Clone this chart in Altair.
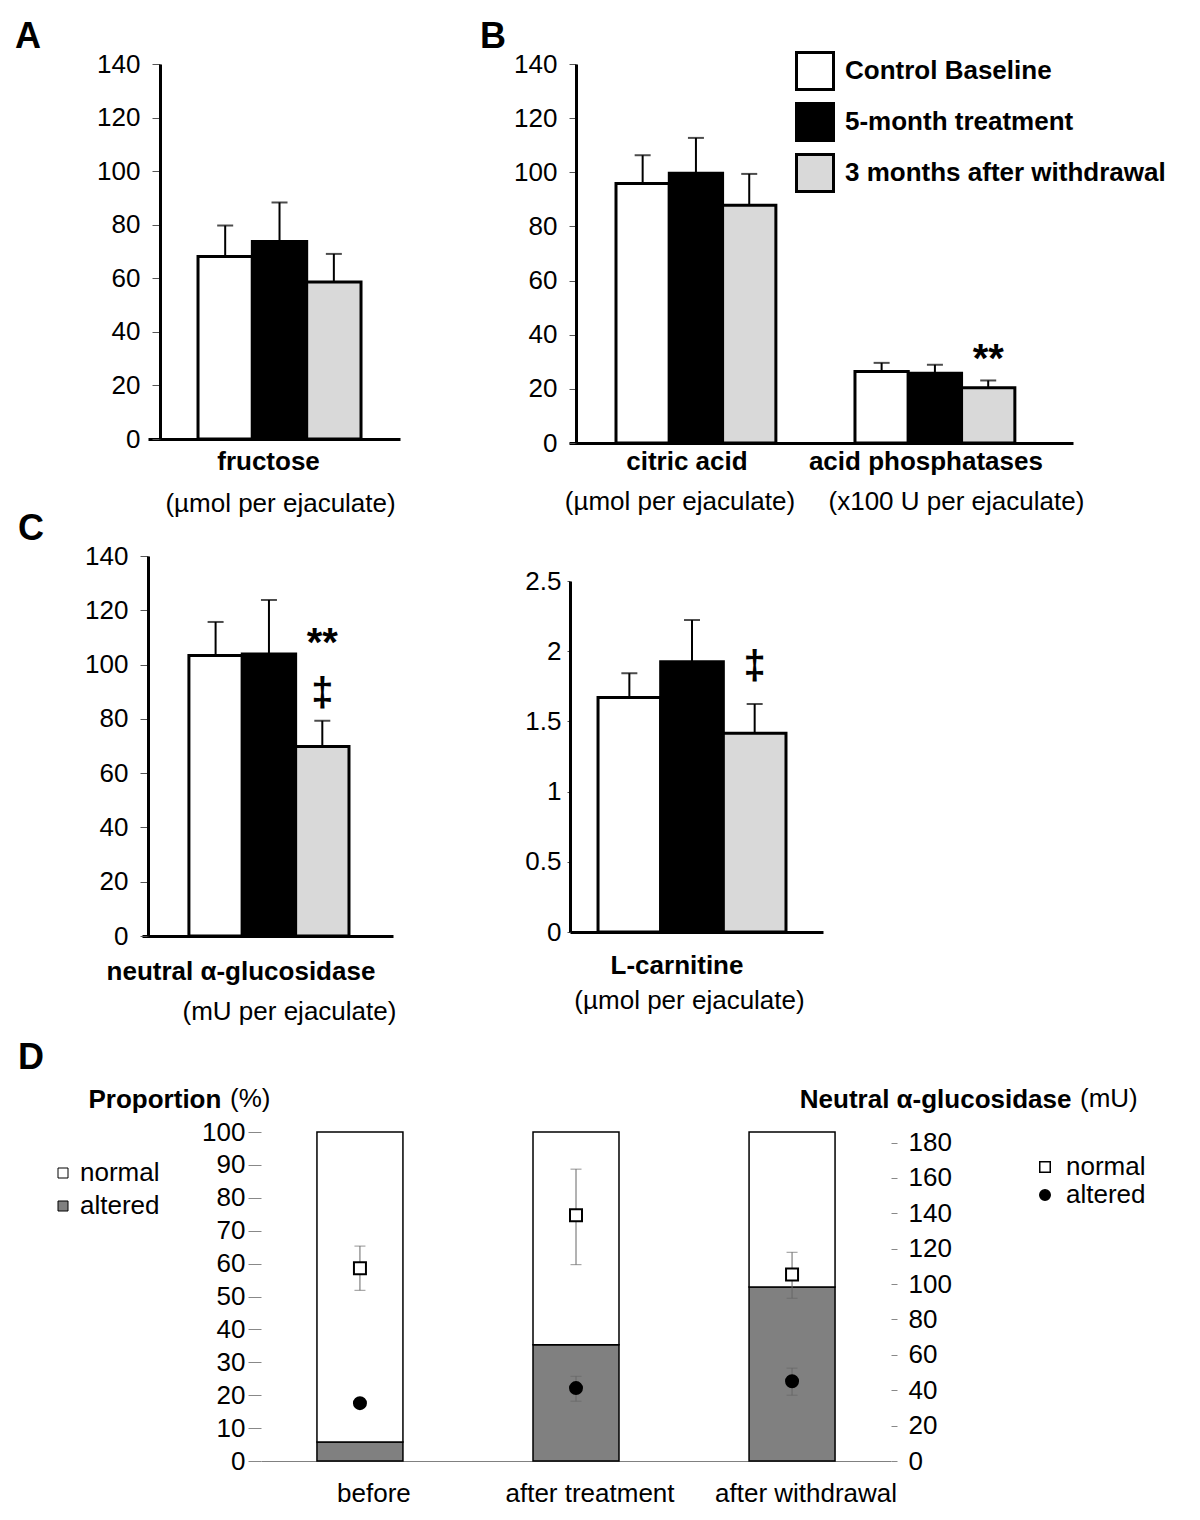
import altair as alt
import pandas as pd

FONT = "Liberation Sans"

# ---------------- data ----------------
groups = ["Control Baseline", "5-month treatment", "3 months after withdrawal"]
group_colors = ["#ffffff", "#000000", "#d9d9d9"]

fructose_mean = [68.1, 73.7, 58.6]
fructose_err = [11.6, 14.6, 10.5]
citric_mean = [95.9, 99.6, 87.8]
citric_err = [10.4, 13.1, 11.6]
acidp_mean = [26.4, 25.8, 20.4]
acidp_err = [3.2, 3.1, 2.7]
glucosidase_mean = [103.3, 103.9, 69.8]
glucosidase_err = [12.4, 19.9, 9.5]
carnitine_mean = [1.67, 1.925, 1.415]
carnitine_err = [0.173, 0.297, 0.209]

d_periods = ["before", "after treatment", "after withdrawal"]
altered_pct = [5.8, 35.3, 52.9]
normal_mU = [109.0, 139.0, 105.5]
normal_lo = [96.5, 111.0, 92.0]
normal_hi = [121.5, 165.0, 118.0]
altered_mU = [32.7, 41.2, 45.1]
altered_lo = [32.7, 33.8, 37.2]
altered_hi = [32.7, 47.9, 52.5]

tick_0_140 = [0, 20, 40, 60, 80, 100, 120, 140]
tick_0_25 = [0, 0.5, 1, 1.5, 2, 2.5]


def bar_panel(cats, means, errs, width, height, x_range, pad_outer, pad_inner,
              band_align, y_domain, y_values, y_offset, y_tick, y_labpad,
              x_labpad, x_laboffset, units, annots, letter, legend,
              y_range=None, y_format="~f"):
    rows = []
    for c, mlist, elist in zip(cats, means, errs):
        for g, m, e in zip(groups, mlist, elist):
            rows.append({"category": c, "group": g, "mean": m, "upper": m + e})
    df = pd.DataFrame(rows)

    xs = alt.Scale(domain=cats, range=x_range, paddingOuter=pad_outer,
                   paddingInner=pad_inner, align=band_align)
    x_axis = alt.Axis(title=None, labelFontSize=26, labelFontWeight="bold",
                      labelAngle=0, ticks=False, tickSize=0,
                      labelPadding=x_labpad, labelOffset=x_laboffset,
                      domainColor="black", domainWidth=3, labelColor="black",
                      labelLimit=400, labelOverlap=False)
    X = alt.X("category:N", scale=xs, axis=x_axis, sort=cats)
    XO = alt.XOffset("group:N", sort=groups,
                     scale=alt.Scale(domain=groups, paddingInner=0, paddingOuter=0))
    ys_kw = dict(domain=y_domain, nice=False, zero=True)
    if y_range is not None:
        ys_kw["range"] = y_range
    ys = alt.Scale(**ys_kw)
    y_axis = alt.Axis(title=None, values=y_values, grid=False, format=y_format,
                      domainColor="black", domainWidth=3, tickColor="#555",
                      tickWidth=1, tickSize=y_tick, labelFontSize=26,
                      labelPadding=y_labpad, offset=y_offset, labelColor="black")

    base = alt.Chart(df)
    fill = alt.Fill("group:N", scale=alt.Scale(domain=groups, range=group_colors),
                    legend=legend)
    bars = base.mark_bar(stroke="black", strokeWidth=3).encode(
        x=X, xOffset=XO, y=alt.Y("mean:Q", scale=ys, axis=y_axis), fill=fill)
    err = base.mark_rule(color="black", strokeWidth=2).encode(
        x=X, xOffset=XO, y=alt.Y("mean:Q", scale=ys, axis=y_axis), y2="upper:Q")
    cap = base.mark_tick(color="black", thickness=2, size=16).encode(
        x=X, xOffset=XO, y=alt.Y("upper:Q", scale=ys, axis=y_axis))
    layers = [bars, err, cap]

    for cat, txt, dx, uy in units:
        u = alt.Chart(pd.DataFrame([{"category": cat, "t": txt}])).mark_text(
            fontSize=26, baseline="alphabetic", align="center", dx=dx,
            color="black").encode(x=X, y=alt.value(uy), text="t:N")
        layers.append(u)

    if annots:
        adf = pd.DataFrame([{"category": c, "group": g, "ypos": v, "t": t}
                            for c, g, v, t in annots])
        a = alt.Chart(adf).mark_text(fontSize=40, fontWeight="bold",
                                     baseline="alphabetic", color="black").encode(
            x=X, xOffset=XO, y=alt.Y("ypos:Q", scale=ys, axis=y_axis), text="t:N")
        layers.append(a)

    if letter:
        lt, lx, ly = letter
        l = alt.Chart(pd.DataFrame({"t": [lt]})).mark_text(
            fontSize=36, fontWeight="bold", align="left", baseline="alphabetic",
            color="black").encode(x=alt.value(lx), y=alt.value(ly), text="t:N")
        layers.append(l)

    return alt.layer(*layers).properties(width=width, height=height)


legend_B = alt.Legend(orient="none", legendX=226, legendY=-13, title=None,
                      symbolType="square", symbolSize=1369, symbolStrokeColor="black",
                      symbolStrokeWidth=3, labelFontSize=26, labelFontWeight="bold",
                      labelOffset=10, rowPadding=1, labelLimit=500, padding=0,
                      labelColor="black")

panel_A = bar_panel(
    ["fructose"], [fructose_mean], [fructose_err],
    width=258, height=375, x_range=[6, 258], pad_outer=0.273, pad_inner=0,
    band_align=0.562, y_domain=[0, 140], y_values=tick_0_140, y_offset=-18,
    y_tick=8, y_labpad=12, x_labpad=9, x_laboffset=-11,
    units=[("fructose", "(µmol per ejaculate)", 1, 448)],
    annots=None, letter=("A", -127, -16), legend=None)

panel_B = bar_panel(
    ["citric acid", "acid phosphatases"], [citric_mean, acidp_mean],
    [citric_err, acidp_err],
    width=504, height=379, x_range=[0, 504], pad_outer=0.22, pad_inner=0.331,
    band_align=0.447, y_domain=[0, 140], y_values=tick_0_140, y_offset=-7,
    y_tick=7, y_labpad=12, x_labpad=5, x_laboffset=-9,
    units=[("citric acid", "(µmol per ejaculate)", -16, 445.5),
           ("acid phosphatases", "(x100 U per ejaculate)", 21.5, 445.5)],
    annots=[("acid phosphatases", groups[2], 26.2, "**")],
    letter=("B", -89, -16), legend=legend_B)

panel_C1 = bar_panel(
    ["neutral α-glucosidase"], [glucosidase_mean], [glucosidase_err],
    width=251, height=380, x_range=[0, 251], pad_outer=0.284, pad_inner=0,
    band_align=0.516, y_domain=[0, 140], y_values=tick_0_140, y_offset=-6,
    y_tick=8, y_labpad=12, x_labpad=22, x_laboffset=-28,
    units=[("neutral α-glucosidase", "(mU per ejaculate)", 20.5, 463.5)],
    annots=[("neutral α-glucosidase", groups[2], 103.2, "**"),
            ("neutral α-glucosidase", groups[2], 84.7, "‡")],
    letter=("C", -124, -16), legend=None)

panel_C2 = bar_panel(
    ["L-carnitine"], [carnitine_mean], [carnitine_err],
    width=253, height=376, x_range=[0, 253], pad_outer=0.173, pad_inner=0,
    band_align=0.431, y_domain=[0, 2.5], y_values=tick_0_25, y_offset=0,
    y_tick=3, y_labpad=6, x_labpad=20, x_laboffset=-15,
    units=[("L-carnitine", "(µmol per ejaculate)", -2.5, 452.5)],
    annots=[("L-carnitine", groups[2], 1.80, "‡")],
    letter=None, legend=None, y_range=[376, 25])

# ---------------- panel D ----------------
bar_rows = []
for p, a in zip(d_periods, altered_pct):
    bar_rows.append({"period": p, "status": "altered", "lo": 0, "hi": a})
    bar_rows.append({"period": p, "status": "normal", "lo": a, "hi": 100})
dfb = pd.DataFrame(bar_rows)

pt_rows = []
for i, p in enumerate(d_periods):
    pt_rows.append({"period": p, "pstatus": "normal", "mean": normal_mU[i],
                    "lo": normal_lo[i], "hi": normal_hi[i]})
    pt_rows.append({"period": p, "pstatus": "altered", "mean": altered_mU[i],
                    "lo": altered_lo[i], "hi": altered_hi[i]})
dfp = pd.DataFrame(pt_rows)

dX = alt.X("period:N", sort=d_periods,
           scale=alt.Scale(domain=d_periods, range=[119, 749], paddingInner=0.602,
                           paddingOuter=0.259, align=0.5),
           axis=alt.Axis(title=None, domainColor="#808080", domainWidth=1,
                         ticks=False, tickSize=0, labelFontSize=26, labelPadding=19,
                         labelOffset=14, labelAngle=0, labelColor="black",
                         labelLimit=400, labelOverlap=False))

left_axis = alt.Axis(orient="left", values=list(range(0, 101, 10)), domain=False,
                     tickColor="#888", tickSize=13, tickWidth=1, labelFontSize=26,
                     labelPadding=3, offset=-119, grid=False, labelColor="black",
                     title="Proportion", titleFontSize=26, titleFontWeight="bold",
                     titleAngle=0, titleAlign="left", titleBaseline="alphabetic",
                     titleX=-173, titleY=-25, titleColor="black", titleLimit=500)
right_axis = alt.Axis(orient="right", values=list(range(0, 181, 20)), domain=False,
                      tickColor="#888", tickSize=6, tickWidth=1, labelFontSize=26,
                      labelPadding=11, grid=False, labelColor="black",
                      title="Neutral α-glucosidase", titleFontSize=26,
                      titleFontWeight="bold", titleAngle=0, titleAlign="right",
                      titleBaseline="alphabetic", titleX=180, titleY=-25,
                      titleColor="black", titleLimit=500)

left_legend = alt.Legend(orient="none", legendX=-92, legendY=28, title=None,
                         symbolType="square", symbolSize=100, symbolStrokeColor="black",
                         symbolStrokeWidth=1, labelFontSize=26, labelOffset=4,
                         rowPadding=7, labelLimit=300, padding=0, labelColor="black")
right_legend = alt.Legend(orient="none", legendX=890, legendY=22, title=None,
                          symbolSize=110, symbolStrokeColor="black",
                          symbolStrokeWidth=1.5, labelFontSize=26, labelOffset=8,
                          rowPadding=2, labelLimit=300, padding=0, labelColor="black")

ys_left = alt.Scale(domain=[0, 100], nice=False)
ys_right = alt.Scale(domain=[0, 186], nice=False)

d_bars = alt.Chart(dfb).mark_bar(stroke="black", strokeWidth=1.5).encode(
    x=dX, y=alt.Y("lo:Q", scale=ys_left, axis=left_axis), y2="hi:Q",
    fill=alt.Fill("status:N", scale=alt.Scale(domain=["normal", "altered"],
                                              range=["#ffffff", "#808080"]),
                  legend=left_legend))

pstatus_dom = ["normal", "altered"]
pbase = alt.Chart(dfp)
d_err = pbase.mark_rule(color="#666", strokeWidth=1).encode(
    x=dX, y=alt.Y("lo:Q", scale=ys_right, axis=right_axis), y2="hi:Q")
d_cap_lo = pbase.mark_tick(color="#666", thickness=1, size=11).encode(
    x=dX, y=alt.Y("lo:Q", scale=ys_right, axis=right_axis))
d_cap_hi = pbase.mark_tick(color="#666", thickness=1, size=11).encode(
    x=dX, y=alt.Y("hi:Q", scale=ys_right, axis=right_axis))
d_pts = pbase.mark_point(filled=True, strokeWidth=2, size=144, opacity=1).encode(
    x=dX, y=alt.Y("mean:Q", scale=ys_right, axis=right_axis),
    shape=alt.Shape("pstatus:N", scale=alt.Scale(domain=pstatus_dom,
                                                 range=["square", "circle"]),
                    legend=right_legend),
    fill=alt.Fill("pstatus:N", scale=alt.Scale(domain=pstatus_dom,
                                               range=["#ffffff", "#000000"]),
                  legend=right_legend),
    stroke=alt.Stroke("pstatus:N", scale=alt.Scale(domain=pstatus_dom,
                                                   range=["#000000", "#000000"]),
                      legend=right_legend))
points_layer = alt.layer(d_err, d_cap_lo, d_cap_hi, d_pts)


def note(txt, x, y, weight="normal", size=26):
    return alt.Chart(pd.DataFrame({"t": [txt]})).mark_text(
        fontSize=size, fontWeight=weight, align="left", baseline="alphabetic",
        color="black").encode(x=alt.value(x), y=alt.value(y), text="t:N")


panel_D = alt.layer(
    d_bars, points_layer,
    note("(%)", 88, -25), note("(mU)", 938, -25),
    note("D", -124, -63.5, weight="bold", size=36),
).resolve_scale(y="independent", fill="independent", shape="independent",
                stroke="independent").properties(width=749, height=329)


def indep(c):
    return c.resolve_scale(fill="independent", shape="independent",
                           stroke="independent", xOffset="independent").resolve_legend(
        fill="independent", shape="independent", stroke="independent")


row1 = indep(alt.hconcat(panel_A, panel_B, spacing=80))
row2 = indep(alt.hconcat(panel_C1, panel_C2, spacing=127))
lower = indep(alt.vconcat(row2, panel_D, spacing=14))
chart = indep(alt.vconcat(row1, lower, spacing=-6)).properties(
    padding={"left": 7, "top": 11, "right": 5, "bottom": 5}
).configure(font=FONT).configure_view(stroke=None)

chart.save("out.html", embed_options={"renderer": "svg", "actions": False})
